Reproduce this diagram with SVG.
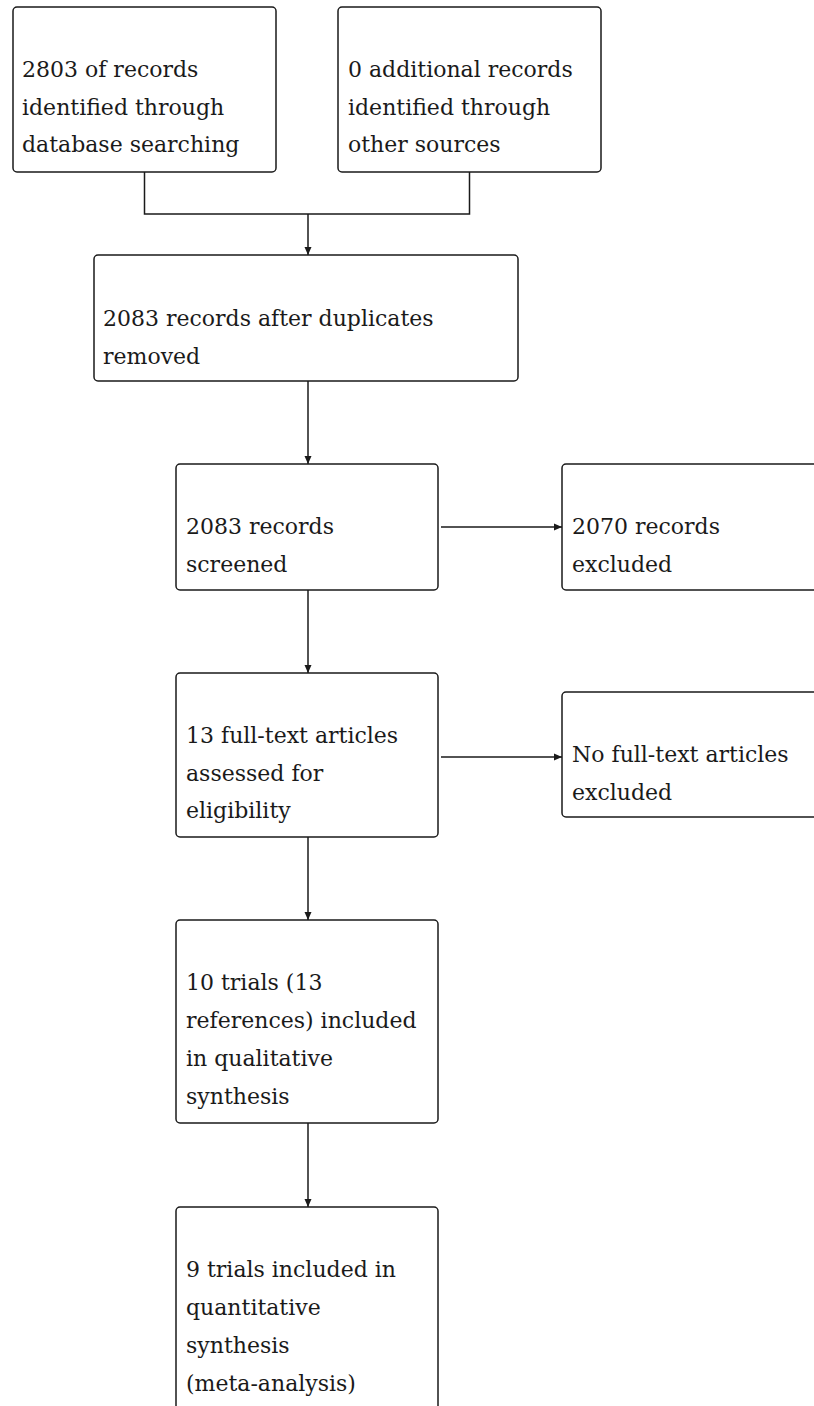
<svg xmlns="http://www.w3.org/2000/svg" width="814" height="1406" viewBox="0 0 814 1406">
<style>
.box{fill:#fff;stroke:#1a1a1a;stroke-width:1.5}
.lbl{font-family:"DejaVu Serif","Liberation Serif",serif;font-size:22px;fill:#1a1a1a}
.con{fill:none;stroke:#1a1a1a;stroke-width:1.5}
</style>
<defs>
<marker id="ah" viewBox="0 0 8 8" refX="8" refY="4" markerWidth="8" markerHeight="8" markerUnits="userSpaceOnUse" orient="auto">
<path d="M0,0.5 L8,4 L0,7.5 Z" fill="#1a1a1a"/>
</marker>
</defs>
<rect width="814" height="1406" fill="#fff"/>
<g id="connectors">
<path class="con" d="M144.5,172 V214 H469.5 V172"/>
<path class="con" d="M308,214 V255" marker-end="url(#ah)"/>
<path class="con" d="M308,381 V464" marker-end="url(#ah)"/>
<path class="con" d="M308,590 V673" marker-end="url(#ah)"/>
<path class="con" d="M308,837 V920" marker-end="url(#ah)"/>
<path class="con" d="M308,1123 V1207" marker-end="url(#ah)"/>
<path class="con" d="M441,527 H562" marker-end="url(#ah)"/>
<path class="con" d="M441,757 H562" marker-end="url(#ah)"/>
</g>
<g id="n1">
<rect class="box" x="13" y="7" width="263" height="165" rx="4"/>
<text class="lbl" x="22" y="77">2803 of records</text>
<text class="lbl" x="22" y="114.5">identified through</text>
<text class="lbl" x="22" y="152">database searching</text>
</g>
<g id="n2">
<rect class="box" x="338" y="7" width="263" height="165" rx="4"/>
<text class="lbl" x="348" y="77">0 additional records</text>
<text class="lbl" x="348" y="114.5">identified through</text>
<text class="lbl" x="348" y="152">other sources</text>
</g>
<g id="n3">
<rect class="box" x="94" y="255" width="424" height="126" rx="4"/>
<text class="lbl" x="103" y="326">2083 records after duplicates</text>
<text class="lbl" x="103" y="363.5">removed</text>
</g>
<g id="n4">
<rect class="box" x="176" y="464" width="262" height="126" rx="4"/>
<text class="lbl" x="186" y="534">2083 records</text>
<text class="lbl" x="186" y="571.5">screened</text>
</g>
<g id="n5">
<rect class="box" x="562" y="464" width="270" height="126" rx="4"/>
<text class="lbl" x="572" y="534">2070 records</text>
<text class="lbl" x="572" y="571.5">excluded</text>
</g>
<g id="n6">
<rect class="box" x="176" y="673" width="262" height="164" rx="4"/>
<text class="lbl" x="186" y="743">13 full-text articles</text>
<text class="lbl" x="186" y="780.5">assessed for</text>
<text class="lbl" x="186" y="818">eligibility</text>
</g>
<g id="n7">
<rect class="box" x="562" y="692" width="270" height="125" rx="4"/>
<text class="lbl" x="572" y="762">No full-text articles</text>
<text class="lbl" x="572" y="799.5">excluded</text>
</g>
<g id="n8">
<rect class="box" x="176" y="920" width="262" height="203" rx="4"/>
<text class="lbl" x="186" y="990">10 trials (13</text>
<text class="lbl" x="186" y="1028">references) included</text>
<text class="lbl" x="186" y="1066">in qualitative</text>
<text class="lbl" x="186" y="1104">synthesis</text>
</g>
<g id="n9">
<rect class="box" x="176" y="1207" width="262" height="220" rx="4"/>
<text class="lbl" x="186" y="1277">9 trials included in</text>
<text class="lbl" x="186" y="1315">quantitative</text>
<text class="lbl" x="186" y="1353">synthesis</text>
<text class="lbl" x="186" y="1391">(meta-analysis)</text>
</g>
</svg>
